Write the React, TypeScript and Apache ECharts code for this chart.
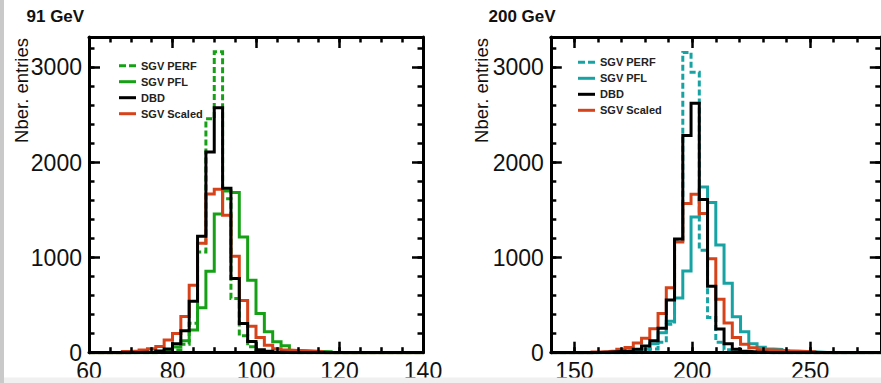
import React, { useEffect, useRef } from 'react';
import * as echarts from 'echarts';

// ---------- data ----------
const leftBinStart = 60;
const leftBinWidth = 2;
const rightBinStart = 140;
const rightBinWidth = 3.5;

// 91 GeV panel, 40 bins of 2 GeV from 60 to 140
const leftPERF = [0, 0, 0, 0, 0, 0, 0, 0, 0, 10, 28, 90, 310, 1060, 2460, 3165, 1620, 570, 178, 63, 15, 5, 0, 0, 0, 0, 0, 0, 0, 0, 0, 0, 0, 0, 0, 0, 0, 0, 0, 0];
const leftPFL = [0, 0, 0, 0, 0, 0, 0, 0, 10, 25, 60, 125, 240, 473, 857, 1458, 1700, 1685, 1218, 763, 413, 220, 115, 74, 22, 18, 15, 12, 10, 0, 0, 0, 0, 0, 0, 0, 0, 0, 0, 0];
const leftDBD = [0, 0, 0, 0, 0, 3, 5, 8, 18, 38, 95, 230, 540, 1225, 2110, 2575, 1730, 780, 308, 118, 30, 15, 6, 3, 0, 0, 0, 0, 0, 0, 0, 0, 0, 0, 0, 0, 0, 0, 0, 0];
const leftScaled = [0, 0, 0, 0, 12, 18, 28, 42, 65, 133, 203, 380, 710, 1150, 1670, 1720, 1445, 1015, 548, 277, 160, 78, 42, 28, 24, 20, 15, 10, 0, 0, 0, 0, 0, 0, 0, 0, 0, 0, 0, 0];

// 200 GeV panel, 40 bins of 3.5 GeV from 140 to 280
const rightPERF = [0, 0, 0, 0, 0, 0, 0, 0, 0, 0, 0, 10, 40, 110, 300, 1180, 3158, 2949, 1077, 370, 110, 30, 10, 0, 0, 0, 0, 0, 0, 0, 0, 0, 0, 0, 0, 0, 0, 0, 0, 0];
const rightPFL = [0, 0, 0, 0, 0, 0, 0, 0, 0, 10, 18, 35, 95, 210, 330, 575, 860, 1427, 1742, 1580, 1133, 730, 378, 220, 94, 57, 38, 35, 18, 15, 12, 10, 5, 0, 0, 0, 0, 0, 0, 0];
const rightDBD = [0, 0, 0, 0, 0, 3, 6, 10, 15, 21, 35, 70, 125, 256, 553, 1195, 2284, 2623, 1610, 698, 250, 95, 35, 15, 8, 4, 0, 0, 0, 0, 0, 0, 0, 0, 0, 0, 0, 0, 0, 0];
const rightScaled = [0, 0, 0, 0, 0, 8, 12, 18, 35, 55, 103, 151, 252, 413, 684, 1165, 1568, 1665, 1463, 987, 562, 312, 160, 90, 52, 30, 28, 25, 18, 15, 12, 10, 0, 0, 0, 0, 0, 0, 0, 0];

const leftXMajor = [60, 80, 100, 120, 140];
const rightXMajor = [150, 200, 250];
const yMajor = [0, 1000, 2000, 3000];
const yMax = 3320;

const legendNames = ['SGV PERF', 'SGV PFL', 'DBD', 'SGV Scaled'];
const panelTitles = ['91 GeV', '200 GeV'];
const yTitle = 'Nber. entries';

// ---------- style ----------
const FONT = "'Liberation Sans', Arial, Helvetica, sans-serif";
const GREEN = '#16a016';
const TEAL = '#17a3a3';
const RED = '#d6431a';
const BLACK = '#000000';
const DASH = [6, 3];
const DASH_ICON = 'path://M0,0h7v3h-7zM10,0h7v3h-7z';
const plain = (v: number) => String(v);

function histPoints(start: number, width: number, counts: number[]) {
  const pts = counts.map((c, i) => [start + width * i, c]);
  pts.push([start + width * counts.length, counts[counts.length - 1]]);
  return pts;
}

function xAxes(grid: number, min: number, max: number, majors: number[], minorStep: number) {
  const base = { gridIndex: grid, type: 'value', min, max, splitLine: { show: false }, z: 10 };
  const line = { show: true, onZero: false, lineStyle: { color: BLACK, width: 3 } };
  const majorTick = { show: true, inside: true, length: 11, customValues: majors, lineStyle: { color: BLACK, width: 2.5 } };
  const minorTick = { show: true, inside: true, length: 5.5, lineStyle: { color: BLACK, width: 2.5 } };
  return [
    { ...base, position: 'bottom', axisLine: line, axisTick: majorTick,
      axisLabel: { show: true, customValues: majors, formatter: plain, margin: 9.5, fontSize: 23, lineHeight: 18, color: '#111', fontFamily: FONT } },
    { ...base, position: 'bottom', interval: minorStep, axisLine: { show: false, onZero: false }, axisTick: minorTick, axisLabel: { show: false } },
    { ...base, position: 'top', axisLine: line, axisTick: majorTick, axisLabel: { show: false } },
    { ...base, position: 'top', interval: minorStep, axisLine: { show: false, onZero: false }, axisTick: minorTick, axisLabel: { show: false } },
  ];
}

function yAxes(grid: number) {
  const base = { gridIndex: grid, type: 'value', min: 0, max: yMax, splitLine: { show: false }, z: 10 };
  const line = { show: true, onZero: false, lineStyle: { color: BLACK, width: 3 } };
  const majorTick = { show: true, inside: true, length: 11, customValues: yMajor, lineStyle: { color: BLACK, width: 2.5 } };
  const minorTick = { show: true, inside: true, length: 5.5, lineStyle: { color: BLACK, width: 2.5 } };
  return [
    { ...base, position: 'left', axisLine: line, axisTick: majorTick,
      axisLabel: { show: true, customValues: yMajor, formatter: plain, margin: 7, fontSize: 23, lineHeight: 16, color: '#111', fontFamily: FONT } },
    { ...base, position: 'left', interval: 200, axisLine: { show: false, onZero: false }, axisTick: minorTick, axisLabel: { show: false } },
    { ...base, position: 'right', axisLine: line, axisTick: majorTick, axisLabel: { show: false } },
    { ...base, position: 'right', interval: 200, axisLine: { show: false, onZero: false }, axisTick: minorTick, axisLabel: { show: false } },
  ];
}

function histSeries(prefix: string, axisIdx: number, name: string, pts: number[][], color: string, dashed: boolean) {
  return {
    type: 'line',
    name: prefix + name,
    xAxisIndex: axisIdx,
    yAxisIndex: axisIdx,
    data: pts,
    step: 'end',
    symbol: 'none',
    silent: true,
    lineStyle: { color, width: 3, type: dashed ? DASH : 'solid', cap: 'butt', join: 'miter' },
    itemStyle: { color },
    z: 2,
  };
}

function legend(prefix: string, left: number, top: number) {
  return {
    orient: 'vertical',
    left,
    top,
    itemWidth: 17,
    itemHeight: 3,
    itemGap: 4,
    selectedMode: false,
    formatter: (n: string) => n.slice(prefix.length),
    textStyle: { fontSize: 11, fontWeight: 'bold', color: '#222', fontFamily: FONT, lineHeight: 12 },
    data: [
      { name: prefix + legendNames[0], icon: DASH_ICON },
      { name: prefix + legendNames[1], icon: 'rect' },
      { name: prefix + legendNames[2], icon: 'rect' },
      { name: prefix + legendNames[3], icon: 'rect' },
    ],
  };
}

export default function App() {
  const ref = useRef<HTMLDivElement>(null);
  useEffect(() => {
    if (!ref.current) return;
    const chart = echarts.init(ref.current, undefined, { renderer: 'svg' });
    const L = 'L:';
    const R = 'R:';
    const option: any = {
      animation: false,
      backgroundColor: '#ffffff',
      grid: [
        { left: 89, top: 37, width: 334, height: 315.7 },
        { left: 550.8, top: 37, width: 330, height: 315.7 },
      ],
      xAxis: [...xAxes(0, 60, 140, leftXMajor, 5), ...xAxes(1, 140, 280, rightXMajor, 10)],
      yAxis: [...yAxes(0), ...yAxes(1)],
      legend: [legend(L, 114, 54.7), legend(R, 573, 51.3)],
      series: [
        histSeries(L, 0, legendNames[1], histPoints(leftBinStart, leftBinWidth, leftPFL), GREEN, false),
        histSeries(L, 0, legendNames[0], histPoints(leftBinStart, leftBinWidth, leftPERF), GREEN, true),
        histSeries(L, 0, legendNames[3], histPoints(leftBinStart, leftBinWidth, leftScaled), RED, false),
        histSeries(L, 0, legendNames[2], histPoints(leftBinStart, leftBinWidth, leftDBD), BLACK, false),
        histSeries(R, 4, legendNames[1], histPoints(rightBinStart, rightBinWidth, rightPFL), TEAL, false),
        histSeries(R, 4, legendNames[0], histPoints(rightBinStart, rightBinWidth, rightPERF), TEAL, true),
        histSeries(R, 4, legendNames[3], histPoints(rightBinStart, rightBinWidth, rightScaled), RED, false),
        histSeries(R, 4, legendNames[2], histPoints(rightBinStart, rightBinWidth, rightDBD), BLACK, false),
      ],
      graphic: [
        { type: 'text', x: 26.5, y: 16, z: 50,
          style: { text: panelTitles[0], font: `bold 17px ${FONT}`, fill: '#111', verticalAlign: 'middle', textVerticalAlign: 'middle' } },
        { type: 'text', x: 488.5, y: 16, z: 50,
          style: { text: panelTitles[1], font: `bold 17px ${FONT}`, fill: '#111', verticalAlign: 'middle', textVerticalAlign: 'middle' } },
        { type: 'text', x: 21, y: 38, rotation: Math.PI / 2, z: 50,
          style: { text: yTitle, font: `18.5px ${FONT}`, fill: '#111', align: 'right', textAlign: 'right', verticalAlign: 'middle', textVerticalAlign: 'middle' } },
        { type: 'text', x: 481, y: 38, rotation: Math.PI / 2, z: 50,
          style: { text: yTitle, font: `18.5px ${FONT}`, fill: '#111', align: 'right', textAlign: 'right', verticalAlign: 'middle', textVerticalAlign: 'middle' } },
        { type: 'rect', z: 100, shape: { x: 0, y: 377.5, width: 881, height: 6 }, style: { fill: '#f0f0f0' } },
        { type: 'rect', z: 101, shape: { x: 0, y: 0, width: 4, height: 383 }, style: { fill: '#c9c9c9' } },
      ],
    };
    chart.setOption(option);
    return () => chart.dispose();
  }, []);
  return <div ref={ref} style={{ position: 'absolute', left: 0, top: 0, width: 881, height: 383 }} />;
}
